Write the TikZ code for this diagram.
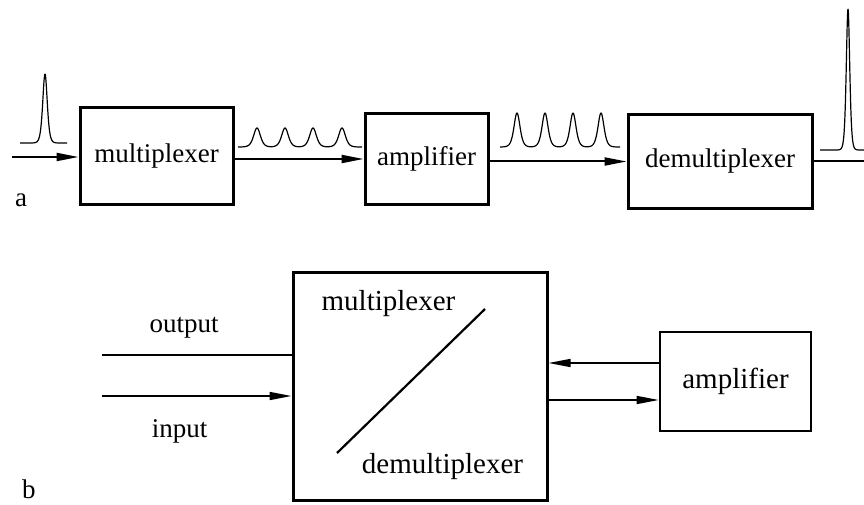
\documentclass[tikz,border=0pt]{standalone}
\usepackage{fontspec}
\setmainfont{Liberation Serif}
\usetikzlibrary{arrows.meta,calc}

\begin{document}
\begin{tikzpicture}[x=1pt,y=-1pt,
  declare function={sechsq(\u)=(1/cosh(min(abs(\u),8)))^2;},
  blk/.style={draw,line width=3pt,inner sep=0pt,font=\fontsize{27}{32}\selectfont},
  blkb/.style={draw,line width=2.6pt,inner sep=0pt,font=\fontsize{29}{34}\selectfont},
  arr/.style={line width=2pt,-{Triangle[length=22pt,width=8pt]}},
  wire/.style={line width=1.6pt},
  pulse/.style={line width=1.2pt,line join=round},
  lbl/.style={inner sep=0pt,anchor=base,font=\fontsize{27}{32}\selectfont},
  boxlbl/.style={inner sep=0pt,anchor=base,font=\fontsize{29}{34}\selectfont}]
\clip (0,0) rectangle (864,505);

% ---------- panel a: serial chain ----------
\node[blk,minimum width=153pt,minimum height=96pt] (mux) at (156.5,156) {multiplexer};
\node[blk,minimum width=123pt,minimum height=90pt] (amp) at (426.5,159) {amplifier};
\node[blk,minimum width=184pt,minimum height=93pt] (demux) at (720,161.5) {demultiplexer};

\coordinate (src) at (12,157);
\coordinate (sink) at (870,161.5);
\draw[arr] (src) -- (src -| mux.west);
\draw[arr] (mux.east |- amp.west) -- (amp.west);
\draw[arr] (amp.east |- demux.west) -- (demux.west);
\draw[line width=2pt] (demux.east) -- (sink);

% pulse trains
\draw[pulse] plot[domain=20:67,samples=160]
  (\x,{143-69*sechsq((\x-45)/3)});
\draw[pulse] plot[domain=238:362,samples=300]
  (\x,{147-19*(sechsq((\x-257)/4.5)+sechsq((\x-285)/4.5)+sechsq((\x-313)/4.5)+sechsq((\x-342)/4.5))});
\draw[pulse] plot[domain=500:620,samples=300]
  (\x,{147-34*(sechsq((\x-517)/4)+sechsq((\x-545)/4)+sechsq((\x-573)/4)+sechsq((\x-601)/4))});
\draw[pulse] plot[domain=820:870,samples=220]
  (\x,{150-141*sechsq((\x-848)/2.3)});

\node[lbl,anchor=base west] (la) at (15,206) {a};

% ---------- panel b: shared mux/demux with loop amplifier ----------
\node[draw,line width=3pt,minimum width=254pt,minimum height=228pt] (big) at (420,386) {};
\node[blkb,minimum width=151pt,minimum height=99pt] (ampb) at (735.5,381.5) {amplifier};

\node[boxlbl] (tmux) at (388.5,310) {multiplexer};
\node[boxlbl] (tdemux) at (442.5,473) {demultiplexer};
\coordinate (d1) at (337,453);
\coordinate (d2) at (485,309);
\draw[line width=2.2pt] (d1) -- (d2);

\coordinate (outL) at (102,355);
\coordinate (inL) at (102,396);
\draw[wire] (outL) -- (outL -| big.west);
\draw[wire,-{Triangle[length=22pt,width=8pt]}] (inL) -- (inL -| big.west);
\node[lbl] (tout) at (184,332) {output};
\node[lbl] (tin) at (179.5,437) {input};

\coordinate (r1) at ($(ampb.west)+(0,-18.5)$);
\coordinate (r2) at ($(ampb.west)+(0,18.5)$);
\draw[wire,-{Triangle[length=22pt,width=8pt]}] (r1) -- (r1 -| big.east);
\draw[wire,-{Triangle[length=22pt,width=8pt]}] (r2 -| big.east) -- (r2);

\node[lbl,anchor=base west] (lb) at (22,498) {b};
\end{tikzpicture}
\end{document}
